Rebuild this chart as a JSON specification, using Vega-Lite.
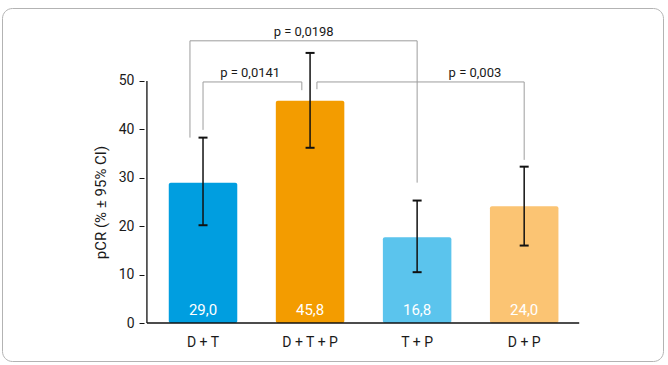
{
  "$schema": "https://vega.github.io/schema/vega-lite/v6.json",
  "width": 661,
  "height": 353,
  "autosize": "none",
  "padding": {"left": 2, "top": 8, "right": 5, "bottom": 4},
  "config": {
    "view": {"stroke": "#b3b3b3", "strokeWidth": 1, "cornerRadius": 10},
    "font": "Roboto"
  },
  "datasets": {
    "bars": [
      {"group": "D + T", "pos": 0, "value": 29.0, "label": "29,0", "lo": 20.2, "hi": 38.3},
      {"group": "D + T + P", "pos": 1, "value": 45.9, "label": "45,8", "lo": 36.2, "hi": 55.8},
      {"group": "T + P", "pos": 2, "value": 17.7, "label": "16,8", "lo": 10.5, "hi": 25.3},
      {"group": "D + P", "pos": 3, "value": 24.1, "label": "24,0", "lo": 16.0, "hi": 32.3}
    ],
    "brackets": [
      {"p": "p = 0,0198", "x1": -0.122, "x2": 2.0, "top": 58.3, "lend": 38.3, "rend": 29.0, "tx": 0.94},
      {"p": "p = 0,0141", "x1": 0.0, "x2": 0.923, "top": 49.8, "lend": 39.9, "rend": 48.1, "tx": 0.44},
      {"p": "p = 0,003", "x1": 1.064, "x2": 3.0, "top": 49.8, "lend": 48.3, "rend": 33.7, "tx": 2.54}
    ]
  },
  "layer": [
    {
      "data": {"name": "bars"},
      "mark": {"type": "bar", "width": 68.5, "cornerRadius": 2},
      "encoding": {
        "x": {"field": "pos", "type": "quantitative", "scale": {"domain": [-1.831, 4.25], "nice": false, "zero": false}, "axis": null},
        "y": {
          "field": "value", "type": "quantitative",
          "scale": {"domain": [-7.85, 65.08], "nice": false, "zero": false},
          "axis": {
            "values": [0, 10, 20, 30, 40, 50],
            "domain": false, "grid": false,
            "ticks": true, "tickSize": 5, "tickColor": "#111111", "tickWidth": 1,
            "offset": -142,
            "labelFontSize": 14, "labelColor": "#1a1a1a", "labelPadding": 5,
            "title": "pCR (% ± 95% CI)", "titleFontSize": 15, "titleFontWeight": "normal",
            "titleColor": "#1a1a1a", "titlePadding": 10, "titleY": 194
          }
        },
        "y2": {"datum": 0},
        "color": {
          "field": "group", "type": "nominal",
          "scale": {"domain": ["D + T", "D + T + P", "T + P", "D + P"], "range": ["#009ee0", "#f39c00", "#5bc4ed", "#fbc473"]},
          "legend": null
        }
      }
    },
    {
      "data": {"name": "bars"},
      "mark": {"type": "rule", "color": "#111111", "strokeWidth": 1.5},
      "encoding": {
        "x": {"field": "pos", "type": "quantitative"},
        "y": {"field": "lo", "type": "quantitative"},
        "y2": {"field": "hi"}
      }
    },
    {
      "data": {"name": "bars"},
      "mark": {"type": "tick", "orient": "horizontal", "size": 9, "thickness": 2, "color": "#111111", "opacity": 1},
      "encoding": {
        "x": {"field": "pos", "type": "quantitative"},
        "y": {"field": "lo", "type": "quantitative"}
      }
    },
    {
      "data": {"name": "bars"},
      "mark": {"type": "tick", "orient": "horizontal", "size": 9, "thickness": 2, "color": "#111111", "opacity": 1},
      "encoding": {
        "x": {"field": "pos", "type": "quantitative"},
        "y": {"field": "hi", "type": "quantitative"}
      }
    },
    {
      "data": {"name": "bars"},
      "mark": {"type": "text", "color": "white", "fontSize": 15, "baseline": "alphabetic", "dy": -8},
      "encoding": {
        "x": {"field": "pos", "type": "quantitative"},
        "y": {"datum": 0},
        "text": {"field": "label"}
      }
    },
    {
      "data": {"name": "bars"},
      "mark": {"type": "text", "color": "#1a1a1a", "fontSize": 14, "baseline": "alphabetic", "dy": 24},
      "encoding": {
        "x": {"field": "pos", "type": "quantitative"},
        "y": {"datum": 0},
        "text": {"field": "group"}
      }
    },
    {
      "data": {"values": [{}]},
      "mark": {"type": "rule", "color": "#111111", "strokeWidth": 1.3},
      "encoding": {
        "x": {"datum": -0.524},
        "y": {"datum": 0},
        "y2": {"datum": 50}
      }
    },
    {
      "data": {"values": [{}]},
      "mark": {"type": "rule", "color": "#111111", "strokeWidth": 1.3},
      "encoding": {
        "x": {"datum": -0.524},
        "x2": {"datum": 3.514},
        "y": {"datum": 0}
      }
    },
    {
      "data": {"name": "brackets"},
      "mark": {"type": "rule", "color": "#9d9d9d", "strokeWidth": 1},
      "encoding": {
        "x": {"field": "x1", "type": "quantitative"},
        "x2": {"field": "x2"},
        "y": {"field": "top", "type": "quantitative"}
      }
    },
    {
      "data": {"name": "brackets"},
      "mark": {"type": "rule", "color": "#9d9d9d", "strokeWidth": 1},
      "encoding": {
        "x": {"field": "x1", "type": "quantitative"},
        "y": {"field": "top", "type": "quantitative"},
        "y2": {"field": "lend"}
      }
    },
    {
      "data": {"name": "brackets"},
      "mark": {"type": "rule", "color": "#9d9d9d", "strokeWidth": 1},
      "encoding": {
        "x": {"field": "x2", "type": "quantitative"},
        "y": {"field": "top", "type": "quantitative"},
        "y2": {"field": "rend"}
      }
    },
    {
      "data": {"name": "brackets"},
      "mark": {"type": "text", "color": "#1a1a1a", "fontSize": 13, "baseline": "alphabetic", "dy": -5},
      "encoding": {
        "x": {"field": "tx", "type": "quantitative"},
        "y": {"field": "top", "type": "quantitative"},
        "text": {"field": "p"}
      }
    }
  ]
}
